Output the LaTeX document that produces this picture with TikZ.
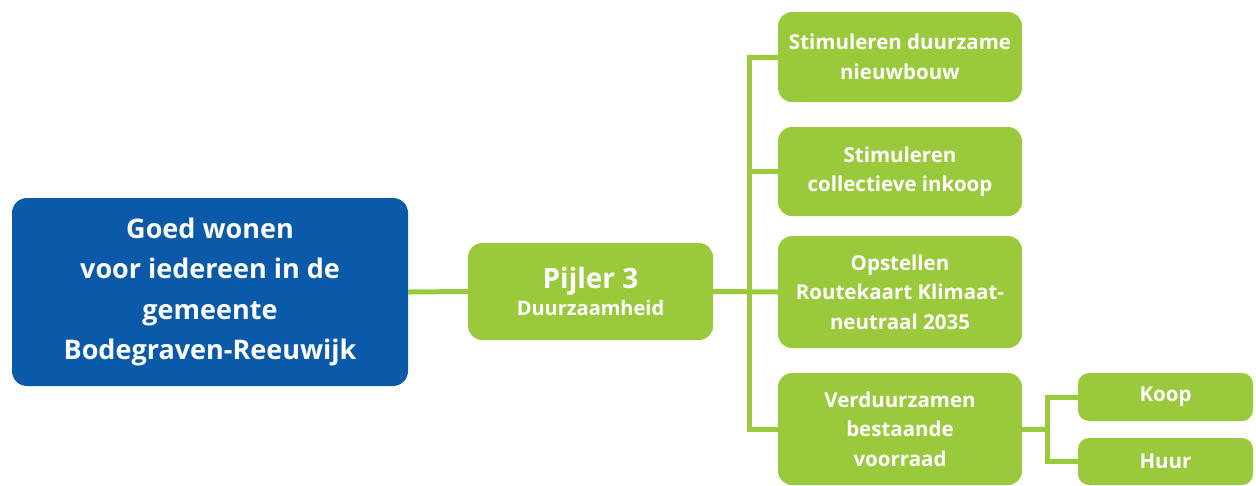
\documentclass[tikz,border=0pt]{standalone}
\usepackage{fontspec}
\setmainfont{Open Sans}
\definecolor{mblue}{HTML}{0B5AAA}
\definecolor{mgreen}{HTML}{9ACA3C}
\begin{document}
\begin{tikzpicture}[x=1pt,y=-1pt,
  box/.style={fill=mgreen, rounded corners=14pt, text=white, align=center, inner sep=0pt,
    font=\fontsize{20.5}{29.5}\selectfont\bfseries},
  conn/.style={draw=mgreen, line width=5pt}]
\useasboundingbox (0,0) rectangle (1256,485);
\node[fill=mblue, rounded corners=15pt, text=white, align=center, inner sep=0pt,
  minimum width=396pt, minimum height=188pt, font=\fontsize{27}{40.5}\selectfont\bfseries]
  (goal) at (210,292) {Goed wonen\\voor iedereen in de\\gemeente\\Bodegraven-Reeuwijk};
\node[box, minimum width=245pt, minimum height=97pt] (pil) at (590.5,291.5)
  {{\fontsize{28}{32}\selectfont Pijler 3}\\[-2pt]{\fontsize{20}{24}\selectfont Duurzaamheid}};
\node[box, minimum width=244pt, minimum height=90pt] (b1) at (900,57) {Stimuleren duurzame\\nieuwbouw};
\node[box, minimum width=244pt, minimum height=89pt] (b2) at (900,171.5) {Stimuleren\\collectieve inkoop};
\node[box, minimum width=244pt, minimum height=112pt] (b3) at (900,292) {Opstellen\\Routekaart Klimaat-\\neutraal 2035};
\node[box, minimum width=244pt, minimum height=112pt] (b4) at (900,429) {Verduurzamen\\bestaande\\voorraad};
\node[box, minimum width=175pt, minimum height=48pt, rounded corners=11pt] (koop) at (1165.5,397) {Koop};
\node[box, minimum width=175pt, minimum height=47pt, rounded corners=11pt] (huur) at (1165.5,461.5) {Huur};
\coordinate (t1) at (749,57);
\coordinate (t4) at (749,429);
\coordinate (j) at (1047,429);
\draw[conn] (goal.east) -- (pil.west);
\draw[conn] (pil.east) -- (b3.west);
\draw[conn] (b1.west) -- (t1) -- (t4) -- (b4.west);
\draw[conn] (b2.west) -- (b2.west -| t1);
\draw[conn] (b4.east) -- (j);
\draw[conn] (koop.west) -| (j) |- (huur.west);
\end{tikzpicture}
\end{document}
